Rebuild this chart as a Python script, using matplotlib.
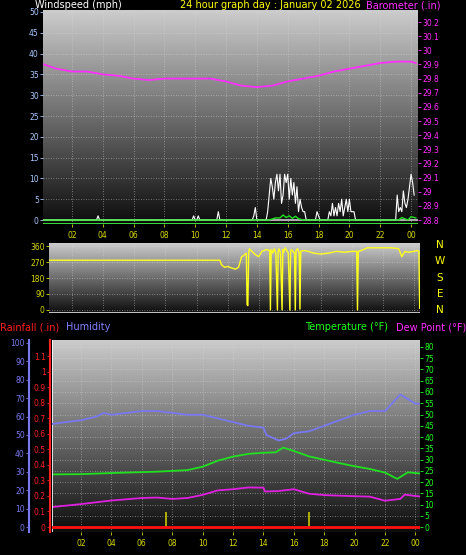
import numpy as np
import matplotlib
matplotlib.use("Agg")
import matplotlib.pyplot as plt

# ---------------- data ----------------
hours_ticks = [2, 4, 6, 8, 10, 12, 14, 16, 18, 20, 22, 24]
hour_labels = ["02", "04", "06", "08", "10", "12", "14", "16", "18", "20", "22", "00"]

baro_t = [0.2, 1, 2, 3, 4, 5, 6, 7, 8, 9, 10, 11, 12, 13, 14, 15, 16, 17, 18, 19, 20, 21, 22, 23, 24, 24.3]
baro_v = [29.90, 29.87, 29.85, 29.85, 29.83, 29.82, 29.80, 29.79, 29.80, 29.80, 29.80, 29.80, 29.78,
          29.75, 29.74, 29.75, 29.78, 29.80, 29.82, 29.85, 29.87, 29.89, 29.91, 29.92, 29.92, 29.91]

gust_t = [0.2, 3.6, 3.7, 3.8, 9.8, 9.9, 10.0, 10.1, 10.2, 10.3, 11.4, 11.5, 11.6, 13.7, 13.8, 13.9, 14.0, 14.1,
          14.6, 14.7, 14.8, 14.9, 15.0, 15.1, 15.2, 15.3, 15.4, 15.5, 15.6, 15.7, 15.8, 15.9, 16.0, 16.1,
          16.2, 16.3, 16.4, 16.5, 16.6, 16.7, 16.8, 16.9, 17.0, 17.1, 17.2, 17.8, 17.9, 18.0, 18.1,
          18.6, 18.7, 18.8, 18.9, 19.0, 19.1, 19.2, 19.3, 19.4, 19.5, 19.6, 19.7, 19.8, 19.9, 20.0, 20.1,
          20.2, 20.3, 20.4, 23.0, 23.1, 23.2, 23.3, 23.4, 23.5, 23.6, 23.7, 23.8, 23.9, 24.0, 24.1, 24.2]
gust_v = [0, 0, 1, 0, 0, 1, 0, 0, 1, 0, 0, 2, 0, 0, 1, 3, 0, 0,
          0, 2, 6, 10, 8, 5, 9, 11, 7, 11, 4, 6, 11, 9, 11, 5,
          10, 6, 9, 4, 8, 2, 5, 3, 2, 2, 0, 0, 2, 1, 0,
          0, 2, 1, 4, 1, 3, 1, 4, 2, 5, 1, 3, 5, 2, 5, 2,
          2, 2, 0, 0, 6, 2, 3, 2, 7, 4, 3, 5, 8, 11, 9, 6]
avg_t = [0.2, 14.8, 15.2, 15.5, 15.7, 15.9, 16.1, 16.3, 16.5, 16.7, 17.0, 23.2, 23.4, 23.8, 24.0, 24.3]
avg_v = [0, 0, 0.5, 0.5, 1.2, 0.6, 1.0, 0.4, 0.9, 0.3, 0, 0, 0.6, 0, 0.8, 0.5]

dir_t = [0.5, 11.5, 11.6, 11.8, 12.0, 12.3, 12.5, 12.7, 12.9, 13.0, 13.2, 13.25, 13.3, 13.35, 13.4, 13.5,
         13.8, 14.0, 14.2, 14.5, 14.7, 14.75, 14.8, 14.9, 15.0, 15.1, 15.2, 15.25, 15.3, 15.4, 15.5, 15.55,
         15.6, 15.7, 15.9, 16.0, 16.05, 16.1, 16.3, 16.35, 16.4, 16.5, 16.6, 16.65, 16.7, 16.9, 17.2, 17.5,
         18.0, 18.5, 19.0, 19.5, 20.0, 20.3, 20.35, 20.4, 20.6, 21.0, 21.5, 22.0, 22.5, 23.0, 23.2, 23.4,
         23.6, 24.0, 24.2, 24.3, 24.35]
dir_v = [280, 280, 255, 240, 245, 235, 230, 240, 300, 305, 320, 30, 25, 320, 345, 335,
         310, 300, 330, 340, 335, 0, 340, 320, 345, 320, 0, 330, 345, 320, 0, 340,
         325, 350, 320, 0, 330, 340, 320, 0, 335, 345, 320, 5, 330, 335, 330, 320,
         315, 320, 330, 325, 330, 330, 0, 330, 335, 350, 350, 350, 350, 345, 300, 330,
         325, 330, 335, 330, 10]

hum_t = [0.1, 1, 2, 3, 3.5, 4, 5, 6, 7, 8, 9, 10, 11, 12, 13, 14, 14.2, 15, 15.5, 16, 17, 18, 19, 20,
         21, 22, 23, 24, 24.3]
hum_v = [56, 57, 58, 60, 62, 61, 62, 63, 63, 62, 61, 61, 59, 57, 55, 54, 50, 47, 48, 51, 52, 55, 58, 61,
         63, 63, 72, 67, 67]

temp_t = [0.1, 2, 4, 5, 7, 9, 10, 11, 12, 13, 14, 14.8, 15.3, 16, 17, 18, 19, 20, 21, 22, 22.8, 23.5, 24, 24.3]
temp_v = [23.4, 23.5, 24.0, 24.2, 24.6, 25.3, 26.8, 29.5, 31.3, 32.5, 33.0, 33.2, 35.3, 33.8, 31.4,
          29.9, 28.4, 27.0, 25.8, 24.2, 21.4, 24.3, 24.0, 23.8]

dew_t = [0.1, 2, 4, 6, 7, 8, 9, 10, 11, 12, 13, 14, 14.1, 15, 16, 17, 18, 20, 21, 22, 23, 23.3, 24, 24.3]
dew_v = [8.9, 10.2, 11.8, 12.9, 13.1, 12.5, 12.9, 14.3, 16.3, 16.8, 17.6, 17.5, 15.8, 16.0, 16.8, 14.8,
         14.2, 13.7, 13.5, 11.7, 12.5, 14.4, 13.8, 13.6]

rain_t = [0.1, 24.3]
rain_v = [0.0, 0.0]
mark_t = [7.6, 17.0]
mark_h = [6.5, 6.5]

# ---------------- layout helpers ----------------
W, H = 466, 555
fig = plt.figure(figsize=(W / 100, H / 100), dpi=100, facecolor="black")


def rect(x0, y0, x1, y1):
    return [x0 / W, 1 - y1 / H, (x1 - x0) / W, (y1 - y0) / H]


grad = np.linspace(0.80, 0.05, 256).reshape(-1, 1)


def bg(ax):
    ax.imshow(grad, cmap="gray", vmin=0, vmax=1, aspect="auto", extent=[0, 1, 0, 1],
              transform=ax.transAxes, zorder=0)
    ax.grid(True, color="#d8d8d8", linestyle=(0, (1, 2)), linewidth=0.6, alpha=0.6)
    for s in ax.spines.values():
        s.set_visible(False)


tick_kw = dict(labelsize=5.5, length=2, width=0.6, pad=1)

# ---------------- panel 1: wind / barometer ----------------
ax1 = fig.add_axes(rect(43, 10, 418, 224))
bg(ax1)
ax1.set_xlim(0.13, 24.45)
ax1.set_ylim(-0.96, 50.48)
ax1.axhline(0, color="#c8c8c8", lw=1.2, zorder=2)
ax1.plot(gust_t, gust_v, color="white", lw=0.8, zorder=3)
ax1.plot(avg_t, avg_v, color="#20e020", lw=1.0, zorder=4)
ax1.axhline(-0.96, color="#40ff40", lw=1.2, zorder=5)

ax1b = ax1.twinx()
ax1b.set_ylim(28.772, 30.285)
ax1b.plot(baro_t, baro_v, color="#ff30ff", lw=1.3)
bt = np.round(np.arange(28.8, 30.21, 0.1), 1)
ax1b.set_yticks(bt)
ax1b.set_yticklabels([f"{v:g}" for v in bt])
ax1b.tick_params(axis="y", colors="#ff30ff", **tick_kw)
for s in ax1b.spines.values():
    s.set_visible(False)

ax1.yaxis.tick_left()
ax1.set_yticks(range(0, 51, 5))
ax1.set_xticks(hours_ticks)
ax1.set_xticklabels(hour_labels)
ax1.tick_params(axis="y", colors="#a8c8ff", **tick_kw)
ax1.tick_params(axis="x", colors="#d8d800", **tick_kw)
ax1.tick_params(axis="x", pad=3)

fig.text(35 / W, 1 - 5 / H, "Windspeed (mph)", color="white", fontsize=7, va="center")
fig.text(270 / W, 1 - 5 / H, "24 hour graph day : January 02 2026", color="#ffff00", fontsize=7,
         va="center", ha="center")
fig.text(440 / W, 1 - 5 / H, "Barometer (.in)", color="#ff30ff", fontsize=7, va="center", ha="right")

# ---------------- panel 2: direction ----------------
ax2 = fig.add_axes(rect(49, 243, 420, 313))
bg(ax2)
ax2.set_xlim(0.51, 24.37)
ax2.set_ylim(-16.9, 376.9)
ax2.plot(dir_t, dir_v, color="#ffff20", lw=1.0, zorder=3)
ax2.axhline(-16.9, color="#c0c0c0", lw=1.5, zorder=4)
ax2.set_yticks([0, 90, 180, 270, 360])
ax2.set_xticks(hours_ticks)
ax2.set_xticklabels([])
ax2.tick_params(axis="y", colors="#d8d800", **tick_kw)
ax2.tick_params(axis="x", bottom=False, **tick_kw)
for lab, yy in zip(["N", "W", "S", "E", "N"], [245, 261, 278, 294, 310]):
    fig.text(440 / W, 1 - yy / H, lab, color="#ffff00", fontsize=7.5, ha="center", va="center")

fig.text(0 / W, 1 - 327 / H, "Rainfall (.in)", color="#ff2020", fontsize=7, va="center")
fig.text(66 / W, 1 - 327 / H, "Humidity", color="#8080ff", fontsize=7, va="center")
fig.text(388 / W, 1 - 327 / H, "Temperature (°F)", color="#20ff20", fontsize=7, va="center", ha="right")
fig.text(466 / W, 1 - 327 / H, "Dew Point (°F)", color="#ff30ff", fontsize=7, va="center", ha="right")

# ---------------- panel 3: temp / humidity / rain ----------------
ax3 = fig.add_axes(rect(52, 340, 420, 532))
bg(ax3)
ax3.set_xlim(0.09, 24.3)
ax3.set_ylim(-2.2, 83.1)

axh = ax3.twinx()
axh.set_ylim(-2.7, 101.6)
axh.plot(hum_t, hum_v, color="#7878f0", lw=1.3, zorder=3)
axh.set_yticks([])
for s in axh.spines.values():
    s.set_visible(False)

axr = ax3.twinx()
axr.set_ylim(-0.032, 1.203)
axr.plot(rain_t, rain_v, color="#ff1010", lw=2.0)
axr.set_yticks([])
for s in axr.spines.values():
    s.set_visible(False)

ax3.plot(temp_t, temp_v, color="#20e020", lw=1.3, zorder=3)
ax3.plot(dew_t, dew_v, color="#e020e0", lw=1.3, zorder=3)
ax3.vlines(mark_t, 0, mark_h, color="#c8c800", lw=1.2, zorder=3)
ax3.axvline(0.09, color="white", lw=1.2, zorder=4)
ax3.yaxis.tick_right()
ax3.set_yticks(range(0, 81, 5))
ax3.set_xticks(hours_ticks)
ax3.set_xticklabels(hour_labels)
ax3.tick_params(axis="y", colors="#20ff20", left=False, right=True, labelleft=False, labelright=True, **tick_kw)
ax3.tick_params(axis="x", colors="#d8d800", **tick_kw)
ax3.tick_params(axis="x", pad=3)

# humidity scale at x=29
sh = fig.add_axes(rect(29, 340, 29.5, 532))
sh.set_facecolor("none")
sh.set_ylim(-2.7, 101.6)
sh.set_xticks([])
sh.set_yticks(range(0, 101, 10))
for k, s in sh.spines.items():
    s.set_visible(k == "left")
sh.spines["left"].set_color("#7878f0")
sh.spines["left"].set_linewidth(1.5)
sh.tick_params(axis="y", colors="#7878f0", **tick_kw)

# rainfall scale at x=50
sr = fig.add_axes(rect(50, 340, 50.5, 532))
sr.set_facecolor("none")
sr.set_ylim(-0.032, 1.203)
sr.set_xticks([])
rt = np.round(np.arange(0, 1.11, 0.1), 1)
sr.set_yticks(rt)
sr.set_yticklabels([f"{v:g}" for v in rt])
for k, s in sr.spines.items():
    s.set_visible(k == "left")
sr.spines["left"].set_color("#ff2020")
sr.spines["left"].set_linewidth(1.5)
sr.tick_params(axis="y", colors="#ff2020", **tick_kw)

fig.savefig("out.png", dpi=100, facecolor="black")
